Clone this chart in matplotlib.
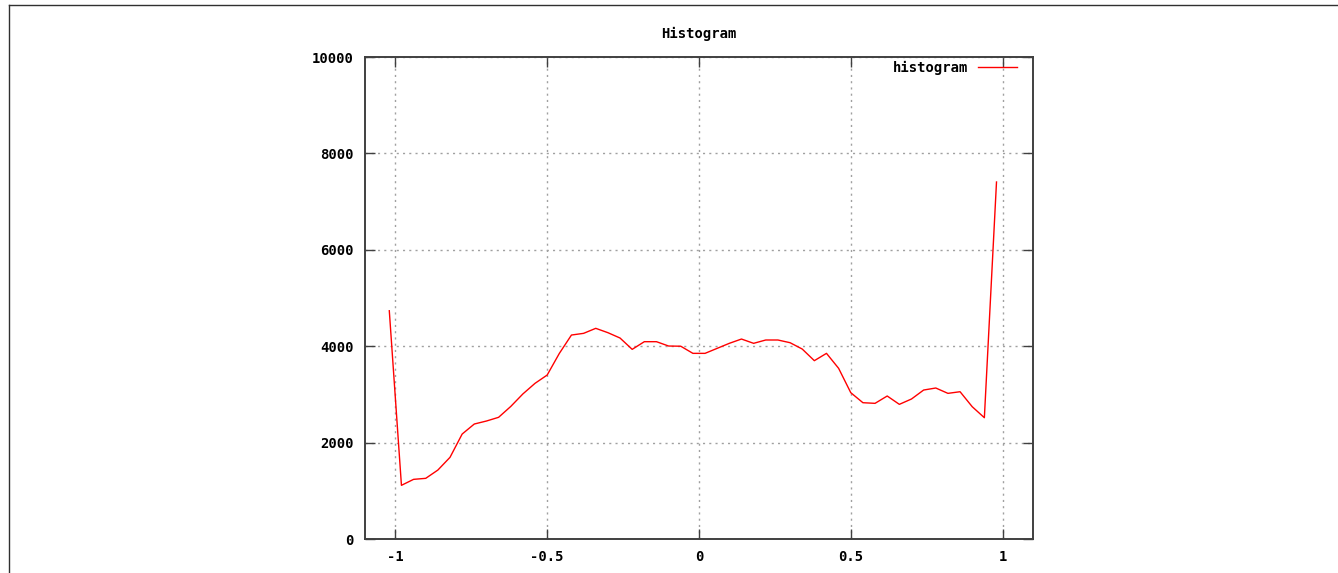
import matplotlib
matplotlib.use("Agg")
import matplotlib.pyplot as plt
from matplotlib.lines import Line2D
import numpy as np

# bin centres and counts
bins = [-1.02, -0.98, -0.94, -0.90, -0.86, -0.82, -0.78, -0.74, -0.70, -0.66,
        -0.62, -0.58, -0.54, -0.50, -0.46, -0.42, -0.38, -0.34, -0.30, -0.26,
        -0.22, -0.18, -0.14, -0.10, -0.06, -0.02, 0.02, 0.06, 0.10, 0.14,
        0.18, 0.22, 0.26, 0.30, 0.34, 0.38, 0.42, 0.46, 0.50, 0.54,
        0.58, 0.62, 0.66, 0.70, 0.74, 0.78, 0.82, 0.86, 0.90, 0.94,
        0.98]
counts = [4736, 1114, 1238, 1259, 1431, 1695, 2178, 2386, 2448, 2525,
          2750, 3010, 3230, 3402, 3850, 4232, 4267, 4371, 4281, 4170,
          3935, 4094, 4094, 4004, 4000, 3852, 3852, 3956, 4060, 4149,
          4060, 4129, 4129, 4073, 3942, 3700, 3852, 3541, 3036, 2828,
          2815, 2967, 2794, 2905, 3091, 3133, 3022, 3056, 2745, 2517,
          7407]

xticks = [-1, -0.5, 0, 0.5, 1]
xtick_labels = ['-1', '-0.5', '0', '0.5', '1']
yticks = [0, 2000, 4000, 6000, 8000, 10000]

font = {'family': 'DejaVu Sans Mono', 'weight': 'bold', 'size': 10}

fig = plt.figure(figsize=(13.38, 5.73), dpi=100)
ax = fig.add_axes([0.2728, 0.0593, 0.4992, 0.8412])

ax.plot(bins, counts, color='#ff0000', linewidth=1.0, label='histogram')

ax.set_xlim(-1.1, 1.1)
ax.set_ylim(0, 10000)
ax.set_xticks(xticks)
ax.set_xticklabels(xtick_labels, fontdict=font)
ax.set_yticks(yticks)
ax.set_yticklabels([str(v) for v in yticks], fontdict=font)

ax.grid(True, color='#a0a0a0', linestyle=(0, (1.5, 3)), linewidth=1.0)
ax.tick_params(direction='in', length=7, width=1.0, color='#404040',
               top=True, right=True, pad=8)
for sp in ax.spines.values():
    sp.set_color('#404040')
    sp.set_linewidth(1.4)

ax.set_title('Histogram', fontdict=font, pad=14)

leg = ax.legend(loc='upper right', bbox_to_anchor=(0.984, 1.004),
                frameon=False, markerfirst=False,
                handlelength=2.8, handletextpad=0.7,
                borderaxespad=0.0, prop=font)

# page border on the top and left edges
fig.add_artist(Line2D([9 / 1338, 1], [1 - 5 / 573, 1 - 5 / 573],
                      transform=fig.transFigure, color='#303030', linewidth=1.0))
fig.add_artist(Line2D([9 / 1338, 9 / 1338], [0, 1 - 5 / 573],
                      transform=fig.transFigure, color='#303030', linewidth=1.0))

fig.savefig('out.png', dpi=100, facecolor='white')
